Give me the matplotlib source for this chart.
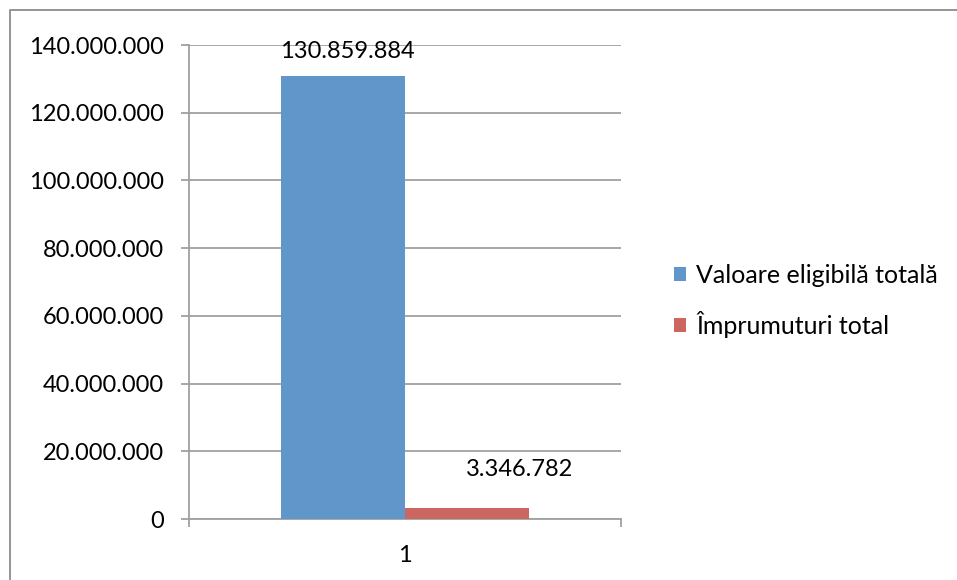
import matplotlib.pyplot as plt
from matplotlib.lines import Line2D

plt.rcParams['font.family'] = ['Lato', 'DejaVu Sans']

# data
series = ['Valoare eligibilă totală', 'Împrumuturi total']
values = [130859884, 3346782]
colors = ['#6096C9', '#CC6661']
labels = ['130.859.884', '3.346.782']
yticks = [0, 20000000, 40000000, 60000000, 80000000, 100000000, 120000000, 140000000]

fig = plt.figure(figsize=(9.57, 5.8), dpi=100)
W, H = 957, 580
ax = fig.add_axes([189 / W, 1 - 519 / H, (621 - 189) / W, (519 - 45) / H])

bw = 124 / 432
xs = [-bw / 2, bw / 2]
for x, v, c, s in zip(xs, values, colors, series):
    ax.bar(x, v, width=bw, color=c, label=s, zorder=3)

ax.set_xlim(-0.5, 0.5)
ax.set_ylim(0, 140000000)
ax.set_yticks(yticks)
ax.set_yticklabels([f'{t:,}'.replace(',', '.') for t in yticks])
ax.grid(axis='y', color='#a0a0a0', lw=1.3, zorder=0)
ax.set_xticks([-0.5, 0.5])
ax.set_xticklabels([])
ax.set_xticks([0], minor=True)
ax.set_xticklabels(['1'], minor=True)
ax.tick_params(axis='x', which='minor', length=0, pad=19, labelsize=17)
ax.tick_params(axis='x', which='major', length=6, color='#a0a0a0', width=1.3, direction='out')
ax.tick_params(axis='y', length=6, color='#a0a0a0', width=1.3, pad=12, labelsize=17)
for side in ['top', 'right']:
    ax.spines[side].set_visible(False)
for side in ['left', 'bottom']:
    ax.spines[side].set_color('#a0a0a0')
    ax.spines[side].set_linewidth(1.3)

# data labels
ax.annotate(labels[0], (xs[0], values[0]), xytext=(3, 10), textcoords='offset points',
            ha='center', va='bottom', fontsize=17)
ax.annotate(labels[1], (xs[1], values[1]), xytext=(38, 20), textcoords='offset points',
            ha='center', va='bottom', fontsize=17)

ax.legend(loc='center left', bbox_to_anchor=(651 / W, 1 - 301 / H), bbox_transform=fig.transFigure,
          frameon=False, fontsize=18, handlelength=0.5, handleheight=0.5,
          handletextpad=0.4, labelspacing=0.95)

# chart area border (top and left)
fig.add_artist(Line2D([9.5 / W, 9.5 / W, 1], [0, 1 - 10 / H, 1 - 10 / H],
                      transform=fig.transFigure, color='#8c8c8c', lw=1.3))

fig.savefig('out.png', dpi=100)
